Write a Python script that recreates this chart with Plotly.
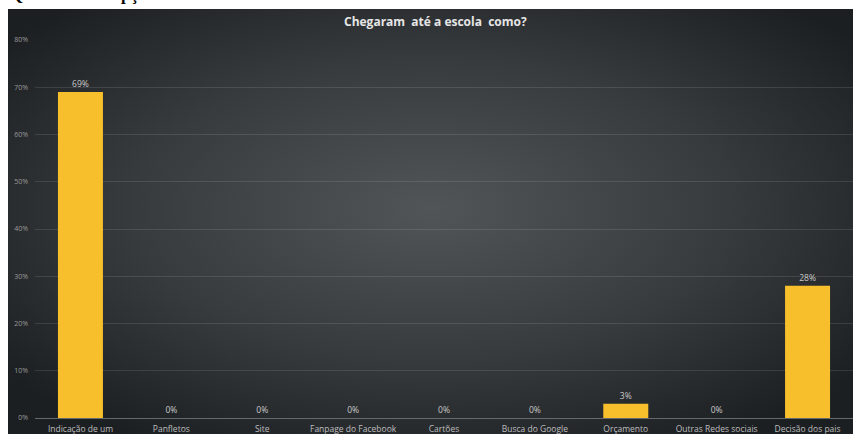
import base64
import plotly.graph_objects as go

# Survey answers: how families found the school
categories = [
    "Indicação de um", "Panfletos", "Site", "Fanpage do Facebook", "Cartões",
    "Busca do Google", "Orçamento", "Outras Redes sociais", "Decisão dos pais",
]
shares = [0.69, 0.00, 0.00, 0.00, 0.00, 0.00, 0.03, 0.00, 0.28]
y_ticks = [0.0, 0.1, 0.2, 0.3, 0.4, 0.5, 0.6, 0.7, 0.8]
y_tick_text = ["0%", "10%", "20%", "30%", "40%", "50%", "60%", "70%", "80%"]

title_text = "Chegaram  até a escola  como?"
caption_text = "Questão 10 – Opção"

W, H = 854, 434
M_L, M_R, M_T, M_B = 35, 1, 40, 16
plot_w = W - M_L - M_R
plot_h = H - M_T - M_B

# dark chart panel with radial light in the middle
bg_x0, bg_y0, bg_x1, bg_y1 = 8, 9, 853, 434
bw, bh = bg_x1 - bg_x0, bg_y1 - bg_y0
svg = (
    f"<svg xmlns='http://www.w3.org/2000/svg' width='{bw}' height='{bh}' "
    f"viewBox='0 0 {bw} {bh}' preserveAspectRatio='none'>"
    "<defs><radialGradient id='g' cx='0.5' cy='0.47' r='0.64'>"
    "<stop offset='0' stop-color='#525558'/>"
    "<stop offset='0.55' stop-color='#383b3e'/>"
    "<stop offset='1' stop-color='#1c1f22'/>"
    "</radialGradient></defs>"
    f"<rect width='{bw}' height='{bh}' fill='url(#g)'/></svg>"
)
svg_uri = "data:image/svg+xml;base64," + base64.b64encode(svg.encode()).decode()


def px_to_paper_x(px):
    return (px - M_L) / plot_w


def px_to_paper_y(py):
    return (H - M_B - py) / plot_h


fig = go.Figure()
fig.add_trace(go.Bar(
    x=categories,
    y=shares,
    marker=dict(color="#f8bf2c", line=dict(width=0)),
    texttemplate="%{y:.0%}",
    textposition="outside",
    cliponaxis=False,
    textfont=dict(family="Open Sans", size=8.5, color="#c9c9c9"),
    hoverinfo="skip",
))

fig.add_layout_image(dict(
    source=svg_uri,
    xref="paper", yref="paper",
    x=px_to_paper_x(bg_x0), y=px_to_paper_y(bg_y0),
    sizex=bw / plot_w, sizey=bh / plot_h,
    xanchor="left", yanchor="top",
    sizing="stretch", layer="below",
))

fig.add_annotation(
    text=f"<b>{title_text}</b>",
    xref="paper", yref="paper",
    x=px_to_paper_x(435), y=px_to_paper_y(21),
    xanchor="center", yanchor="middle",
    showarrow=False,
    font=dict(family="Open Sans", size=12, color="#e6e6e6"),
)

# heading of the page above the chart, mostly outside the visible area
fig.add_annotation(
    text=f"<b>{caption_text}</b>",
    xref="paper", yref="paper",
    x=px_to_paper_x(8), y=px_to_paper_y(6),
    xanchor="left", yanchor="bottom",
    showarrow=False,
    font=dict(family="Liberation Serif", size=17, color="#000000"),
)

fig.update_layout(
    width=W, height=H,
    margin=dict(l=M_L, r=M_R, t=M_T, b=M_B, autoexpand=False),
    paper_bgcolor="#ffffff",
    plot_bgcolor="rgba(0,0,0,0)",
    bargap=0.505,
    showlegend=False,
    xaxis=dict(
        showgrid=False,
        showline=True, linecolor="#66696c", linewidth=1.2,
        ticks="",
        tickfont=dict(family="Open Sans", size=8.5, color="#bdbdbd"),
        ticklabelstandoff=3,
        fixedrange=True,
    ),
    yaxis=dict(
        range=[0, 0.8],
        tickvals=y_ticks, ticktext=y_tick_text,
        showgrid=True, gridcolor="rgba(255,255,255,0.11)", gridwidth=1,
        zeroline=False,
        ticks="",
        tickfont=dict(family="Open Sans", size=7, color="#9a9a9a"),
        ticklabelstandoff=6,
        fixedrange=True,
    ),
)

fig.write_html("out.html")
